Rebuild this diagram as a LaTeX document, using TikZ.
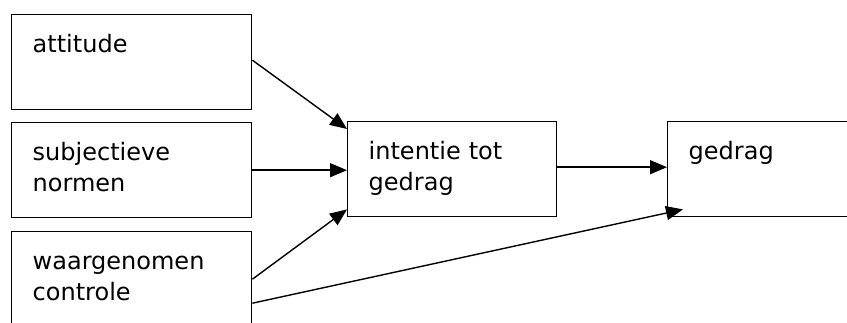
\documentclass[tikz,border=0pt]{standalone}
\usepackage{fontspec}
\setmainfont{DejaVu Sans}
\usetikzlibrary{arrows.meta, positioning}

\begin{document}
\begin{tikzpicture}[x=1pt, y=-1pt, line width=1.4pt,
    box/.style={draw, rectangle, anchor=north west, align=left, inner xsep=21pt, inner ysep=0pt,
        text height=38pt, text depth=57pt, font=\fontsize{24}{30.5}\selectfont},
    arr/.style={-{Triangle[length=17pt, width=14pt]}}]
    \clip (0,0) rectangle (847,323);
    % Factors
    \node[box, text width=198pt] (att) at (11,14) {attitude};
    \node[box, text width=198pt] (subj) at (11,122) {subjectieve\\normen};
    \node[box, text width=198pt] (waar) at (11,231) {waargenomen\\controle};
    % Intention and behaviour
    \node[box, text width=167pt] (int) at (347,121) {intentie tot\\gedrag};
    \node[box, text width=167pt] (ged) at (667,121) {gedrag};
    
    % Connections
    \draw[arr] ([yshift=2pt]att.east) -- ([yshift=-8pt]int.north west);
    \draw[arr] (subj.east) -- (subj.east -| int.west);
    \draw[arr] (waar.east) -- ([yshift=8pt]int.south west);
    \draw[arr] ([yshift=-24pt]waar.east) -- ([xshift=16pt, yshift=8pt]ged.south west);
    \draw[arr] ([yshift=2pt]int.east) -- ([yshift=2pt]int.east -| ged.west);
\end{tikzpicture}
\end{document}
